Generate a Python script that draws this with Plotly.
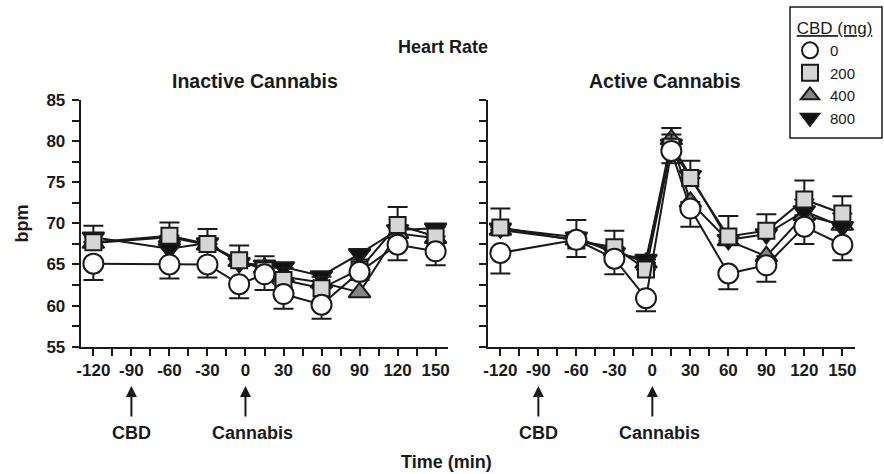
import plotly.graph_objects as go

# ---------------- data ----------------
times = [-120, -60, -30, -5, 15, 30, 60, 90, 120, 150]
x_tick_vals = [-120, -90, -60, -30, 0, 30, 60, 90, 120, 150]
x_tick_text = ["-120", "-90", "-60", "-30", "0", "30", "60", "90", "120", "150"]
y_tick_vals = [55, 60, 65, 70, 75, 80, 85]
doses = ["0", "200", "400", "800"]

# Inactive cannabis (bpm)
inactive_0 = [65.1, 65.0, 65.0, 62.6, 63.8, 61.4, 60.1, 64.1, 67.4, 66.6]
inactive_0_sem = [2.0, 1.7, 1.6, 1.7, 1.9, 1.8, 1.7, 1.0, 1.9, 1.7]
inactive_200 = [67.7, 68.5, 67.5, 65.5, 64.3, 63.1, 62.1, 64.4, 69.8, 68.4]
inactive_200_sem = [2.0, 1.6, 1.8, 1.8, 1.7, 1.5, 1.4, 1.2, 2.2, 1.2]
inactive_400 = [67.6, 68.3, 67.4, 65.4, 64.6, 63.5, 62.8, 61.6, 68.8, 68.2]
inactive_800 = [68.3, 66.9, 67.6, 65.2, 64.9, 64.7, 63.6, 66.3, 69.2, 69.4]

# Active cannabis (bpm)
active_0 = [66.4, 68.0, 65.7, 60.9, 78.8, 71.8, 63.9, 64.9, 69.6, 67.4]
active_0_sem = [2.5, 2.1, 1.9, 1.6, 1.5, 2.2, 1.9, 2.0, 2.1, 1.9]
active_200 = [69.5, 67.9, 67.1, 64.4, 79.3, 75.5, 68.4, 69.1, 72.9, 71.2]
active_200_sem = [2.3, 2.5, 2.0, 1.2, 1.5, 2.1, 2.5, 2.0, 2.3, 2.1]
active_400 = [69.2, 68.0, 66.7, 65.2, 80.2, 72.6, 67.9, 66.0, 71.0, 69.8]
active_400_sem = [0, 0, 0, 0, 1.4, 0, 0, 0, 0, 0]
active_800 = [69.4, 68.3, 66.4, 65.6, 79.6, 75.8, 68.0, 68.7, 71.5, 69.6]

# ---------------- styles ----------------
FONT = "Arial, Liberation Sans, sans-serif"
INK = "#1a1a1a"
W, H = 884, 474

styles = {
    "0": dict(symbol="circle", size=20, color="white"),
    "200": dict(symbol="square", size=16, color="#d6d6d6"),
    "400": dict(symbol="triangle-up", size=19, color="#858585"),
    "800": dict(symbol="triangle-down", size=19, color="#111111"),
}

fig = go.Figure()


def add_series(x, y, dose, xa, ya, err_plus=None, err_minus=None):
    st = styles[dose]
    err = None
    if err_plus is not None or err_minus is not None:
        plus = err_plus if err_plus is not None else [0] * len(y)
        minus = err_minus if err_minus is not None else [0] * len(y)
        err = dict(type="data", symmetric=False, array=plus, arrayminus=minus,
                   color=INK, thickness=2, width=10)
    fig.add_trace(go.Scatter(
        x=x, y=y, xaxis=xa, yaxis=ya, mode="lines+markers",
        line=dict(color=INK, width=2),
        marker=dict(symbol=st["symbol"], size=st["size"], color=st["color"],
                    line=dict(color=INK, width=2)),
        error_y=err, showlegend=False, name=dose + " mg", hoverinfo="skip",
    ))


# draw order: 400, 800, 200, 0 (circles on top)
add_series(times, inactive_400, "400", "x", "y")
add_series(times, inactive_800, "800", "x", "y")
add_series(times, inactive_200, "200", "x", "y", err_plus=inactive_200_sem)
add_series(times, inactive_0, "0", "x", "y", err_minus=inactive_0_sem)

add_series(times, active_400, "400", "x2", "y2", err_plus=active_400_sem)
add_series(times, active_800, "800", "x2", "y2")
add_series(times, active_200, "200", "x2", "y2", err_plus=active_200_sem)
add_series(times, active_0, "0", "x2", "y2", err_minus=active_0_sem)

# legend entries (markers only)
for d in doses:
    st = styles[d]
    fig.add_trace(go.Scatter(
        x=[None], y=[None], xaxis="x", yaxis="y", mode="markers", name=d,
        marker=dict(symbol=st["symbol"], size=16, color=st["color"],
                    line=dict(color=INK, width=2)),
        showlegend=True,
    ))

# ---------------- axes ----------------
xdom_l = [80.7 / W, 448.3 / W]
xdom_r = [487.7 / W, 855.0 / W]
ydom = [1 - 346.7 / H, 1 - 100.0 / H]

xcommon = dict(range=[-130, 160], showline=True, linecolor=INK, linewidth=2,
               ticks="outside", ticklen=7, tickwidth=2, tickcolor=INK,
               tickvals=x_tick_vals, ticktext=x_tick_text,
               showgrid=False, zeroline=False, automargin=False,
               tickfont=dict(family=FONT, size=17, color=INK, weight="bold"),
               minor=dict(tick0=-120, dtick=15, ticks="outside", ticklen=7,
                          tickwidth=2, tickcolor=INK, showgrid=False),
               fixedrange=True)
ycommon = dict(range=[55, 85], showline=True, linecolor=INK, linewidth=2,
               ticks="outside", ticklen=7, tickwidth=2, tickcolor=INK,
               tickvals=y_tick_vals, showgrid=False, zeroline=False, automargin=False,
               tickfont=dict(family=FONT, size=17, color=INK, weight="bold"),
               minor=dict(tick0=55, dtick=2.5, ticks="outside", ticklen=7,
                          tickwidth=2, tickcolor=INK, showgrid=False),
               fixedrange=True)

fig.update_layout(
    width=W, height=H,
    margin=dict(l=0, r=0, t=0, b=0, autoexpand=False),
    paper_bgcolor="white", plot_bgcolor="white",
    font=dict(family=FONT, color=INK),
    xaxis=dict(domain=xdom_l, anchor="y", **xcommon),
    yaxis=dict(domain=ydom, anchor="x", ticklabelstandoff=3, **ycommon),
    xaxis2=dict(domain=xdom_r, anchor="y2", **xcommon),
    yaxis2=dict(domain=ydom, anchor="x2", showticklabels=False, **ycommon),
    legend=dict(
        x=790 / W, y=1 - 12 / H, xanchor="left", yanchor="top",
        borderwidth=0, bgcolor="rgba(0,0,0,0)",
        font=dict(family=FONT, size=15, color=INK),
        title=dict(text="&nbsp;<u>CBD (mg)</u>",
                   font=dict(family=FONT, size=17, color=INK)),
        tracegroupgap=0, itemwidth=30,
    ),
    showlegend=True,
    hovermode=False,
    shapes=[dict(type="rect", xref="paper", yref="paper",
                 x0=790 / W, x1=882 / W, y0=1 - 138 / H, y1=1 - 7 / H,
                 line=dict(color=INK, width=1.5), fillcolor="rgba(0,0,0,0)",
                 layer="above")],
)

bold = dict(family=FONT, size=18, color=INK, weight="bold")
bold_t = dict(family=FONT, size=19.5, color=INK, weight="bold")
ann = [
    dict(text="Heart Rate", x=443 / W, y=1 - 47 / H, xref="paper", yref="paper",
         showarrow=False, font=dict(family=FONT, size=18, color=INK, weight="bold"),
         xanchor="center", yanchor="middle"),
    dict(text="Inactive Cannabis", x=255 / W, y=1 - 81 / H, xref="paper", yref="paper",
         showarrow=False, font=bold_t, xanchor="center", yanchor="middle"),
    dict(text="Active Cannabis", x=664.5 / W, y=1 - 81 / H, xref="paper", yref="paper",
         showarrow=False, font=bold_t, xanchor="center", yanchor="middle"),
    dict(text="bpm", x=22 / W, y=1 - 223.4 / H, xref="paper", yref="paper",
         showarrow=False, font=bold, textangle=-90, xanchor="center", yanchor="middle"),
    dict(text="Time (min)", x=446 / W, y=1 - 461.7 / H, xref="paper", yref="paper",
         showarrow=False, font=bold, xanchor="center", yanchor="middle"),
]

# dosing arrows and labels
for xr in ["x", "x2"]:
    for t, label, shift in [(-90, "CBD", 0), (0, "Cannabis", 7)]:
        ann.append(dict(text="", x=t, y=1 - 386 / H, xref=xr, yref="paper",
                        showarrow=True, ax=0, ay=32, arrowhead=2, arrowsize=1.1,
                        arrowwidth=2, arrowcolor=INK, standoff=0))
        ann.append(dict(text=label, x=t, y=1 - 433 / H, xref=xr, yref="paper",
                        showarrow=False, font=bold, xshift=shift,
                        xanchor="center", yanchor="middle"))

fig.update_layout(annotations=ann)

fig.write_html("out.html",
               config={"displayModeBar": False, "staticPlot": True},
               post_script="document.body.style.margin='0px';document.body.style.overflow='hidden';")
